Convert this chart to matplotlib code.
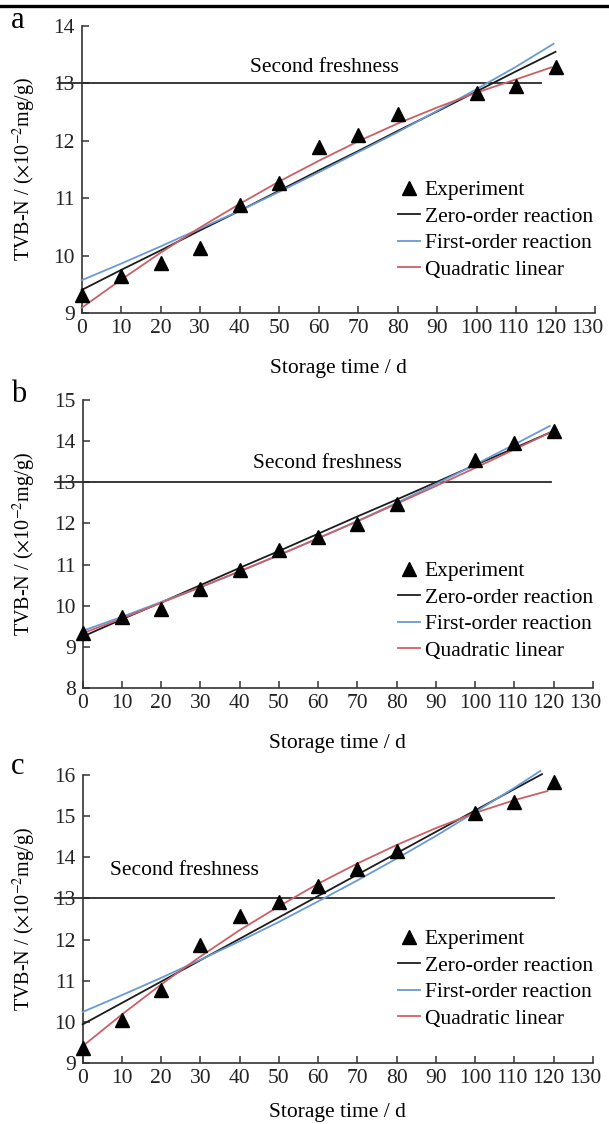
import matplotlib
matplotlib.use("Agg")
import matplotlib.pyplot as plt
from matplotlib.lines import Line2D
from matplotlib.transforms import ScaledTranslation

plt.rcParams['font.family'] = ['Liberation Serif', 'DejaVu Serif']
plt.rcParams['mathtext.fontset'] = 'stix'

# ---------------- data ----------------
days = [0, 10, 20, 30, 40, 50, 60, 70, 80, 100, 110, 120]
fit_days = [0, 10, 20, 30, 40, 50, 60, 70, 80, 90, 100, 110, 120]

# panel a
exp_a = [9.32, 9.65, 9.87, 10.13, 10.88, 11.26, 11.90, 12.10, 12.47, 12.84, 12.96, 13.29]
zero_a = [9.40, 9.75, 10.09, 10.44, 10.78, 11.13, 11.48, 11.82, 12.17, 12.51, 12.86, 13.21, 13.55]
first_a = [9.57, 9.86, 10.16, 10.47, 10.78, 11.11, 11.45, 11.80, 12.15, 12.52, 12.90, 13.29, 13.69]
quad_a = [9.09, 9.58, 10.05, 10.49, 10.90, 11.29, 11.65, 11.99, 12.30, 12.58, 12.84, 13.07, 13.28]
first_a_days = [0, 10, 20, 30, 40, 50, 60, 70, 80, 90, 100, 110, 119.5]
quad_a_days = [0, 10, 20, 30, 40, 50, 60, 70, 80, 90, 100, 110, 119]

# panel b
exp_b = [9.33, 9.72, 9.92, 10.40, 10.87, 11.36, 11.68, 11.99, 12.47, 13.54, 13.95, 14.25]
zero_b = [9.25, 9.67, 10.08, 10.50, 10.92, 11.33, 11.75, 12.17, 12.58, 13.00, 13.42, 13.83, 14.25]
first_b = [9.39, 9.73, 10.09, 10.45, 10.83, 11.23, 11.64, 12.06, 12.50, 12.96, 13.43, 13.92, 14.37]
quad_b = [9.33, 9.69, 10.07, 10.45, 10.84, 11.23, 11.64, 12.05, 12.48, 12.91, 13.35, 13.80, 14.25]
first_b_days = [0, 10, 20, 30, 40, 50, 60, 70, 80, 90, 100, 110, 119]

# panel c
exp_c = [9.37, 10.04, 10.77, 11.87, 12.57, 12.92, 13.30, 13.71, 14.16, 15.07, 15.35, 15.84]
zero_c = [9.94, 10.46, 10.98, 11.50, 12.02, 12.54, 13.06, 13.58, 14.10, 14.62, 15.14, 15.66, 16.02]
first_c = [10.24, 10.65, 11.07, 11.51, 11.96, 12.43, 12.93, 13.44, 13.97, 14.52, 15.10, 15.69, 16.10]
quad_c = [9.41, 10.18, 10.91, 11.59, 12.23, 12.81, 13.36, 13.85, 14.30, 14.71, 15.08, 15.39, 15.61]
zero_c_days = [0, 10, 20, 30, 40, 50, 60, 70, 80, 90, 100, 110, 117]
first_c_days = [0, 10, 20, 30, 40, 50, 60, 70, 80, 90, 100, 110, 116.6]
quad_c_days = [0, 10, 20, 30, 40, 50, 60, 70, 80, 90, 100, 110, 118.4]

xticks = [0, 10, 20, 30, 40, 50, 60, 70, 80, 90, 100, 110, 120, 130]
threshold = 13

W, H = 609, 1124
panels = [
    dict(label='a', exp=exp_a, zero=(fit_days, zero_a), first=(first_a_days, first_a),
         quad=(quad_a_days, quad_a), ylim=(9, 14), yticks=[9, 10, 11, 12, 13, 14],
         line_x=(-6, 116.2), text_xy=(61.6, 13.27),
         px=(81.6, 595, 26, 313), leg_top=180, lab_y=21, xlab_off=46),
    dict(label='b', exp=exp_b, zero=(fit_days, zero_b), first=(first_b_days, first_b),
         quad=(fit_days, quad_b), ylim=(8, 15), yticks=[8, 9, 10, 11, 12, 13, 14, 15],
         line_x=(-7, 119.3), text_xy=(62.3, 13.46),
         px=(82.7, 593, 400, 688), leg_top=561, lab_y=394, xlab_off=46),
    dict(label='c', exp=exp_c, zero=(zero_c_days, zero_c), first=(first_c_days, first_c),
         quad=(quad_c_days, quad_c), ylim=(9, 16), yticks=[9, 10, 11, 12, 13, 14, 15, 16],
         line_x=(-7, 120), text_xy=(25.9, 13.69),
         px=(82.7, 593, 775, 1063), leg_top=929, lab_y=766, xlab_off=40),
]

BLACK = '#1c1c1c'
BLUE = '#6a9ad4'
RED = '#cc5f66'
FS = 15.5

fig = plt.figure(figsize=(W/100, H/100), dpi=100)
fig.add_artist(Line2D([0, 1], [1 - 6/H, 1 - 6/H], color='black', lw=2.4))

for p in panels:
    l, r, t, b = p['px']
    ax = fig.add_axes([l/W, 1 - b/H, (r - l)/W, (b - t)/H])
    ax.plot(p['zero'][0], p['zero'][1], color=BLACK, lw=1.3, label='Zero-order reaction',
            zorder=3, clip_on=False)
    ax.plot(p['first'][0], p['first'][1], color=BLUE, lw=1.3, label='First-order reaction',
            zorder=3, clip_on=False)
    ax.plot(p['quad'][0], p['quad'][1], color=RED, lw=1.3, label='Quadratic linear',
            zorder=3, clip_on=False)
    ax.plot(days, p['exp'], linestyle='none', marker='^', color='black', ms=9.5,
            label='Experiment', zorder=4, clip_on=False)
    ax.plot(p['line_x'], [threshold, threshold], color='#2a2a2a', lw=1.3, clip_on=False, zorder=2)
    ax.text(p['text_xy'][0], p['text_xy'][1], 'Second freshness', ha='center',
            va='center', fontsize=FS)

    ax.set_xlim(0, 130)
    ax.set_ylim(*p['ylim'])
    ax.set_xticks(xticks)
    ax.set_yticks(p['yticks'])
    for s in ['top', 'right']:
        ax.spines[s].set_visible(False)
    for s in ['left', 'bottom']:
        ax.spines[s].set_color('#333333')
        ax.spines[s].set_linewidth(1.2)
    ax.tick_params(direction='in', length=5, width=1.1, colors='#333333',
                   labelcolor='#222222')
    ax.tick_params(axis='x', pad=4, labelsize=15.5)
    ax.tick_params(axis='y', pad=5, labelsize=FS)
    # nudge the crowded right-hand tick labels slightly left, as in the reference
    xlabels = ax.get_xticklabels()
    for lab, dx in zip(xlabels[-3:], [-3, -5, -8]):
        lab.set_transform(lab.get_transform() + ScaledTranslation(dx/100, 0, fig.dpi_scale_trans))

    ax.set_xlabel('Storage time / d', fontsize=FS)
    ax.xaxis.set_label_coords(0.5, -p['xlab_off']/(b - t))
    ax.set_ylabel(r'TVB-N / ($\times$10$^{-2}$mg/g)', fontsize=14.5)
    ax.yaxis.set_label_coords((38 - l)/(r - l), 0.5)

    handles, labels = ax.get_legend_handles_labels()
    order = [3, 0, 1, 2]
    ax.legend([handles[i] for i in order], [labels[i] for i in order],
              loc='upper left', bbox_to_anchor=((398 - l)/(r - l), (b - p['leg_top'])/(b - t)),
              frameon=False, fontsize=FS, handlelength=1.0, handletextpad=0.25,
              labelspacing=0.3, borderpad=0, borderaxespad=0)

    fig.text(11/W, 1 - p['lab_y']/H, p['label'], fontsize=22, ha='left', va='center')

fig.savefig('out.png', dpi=100)
